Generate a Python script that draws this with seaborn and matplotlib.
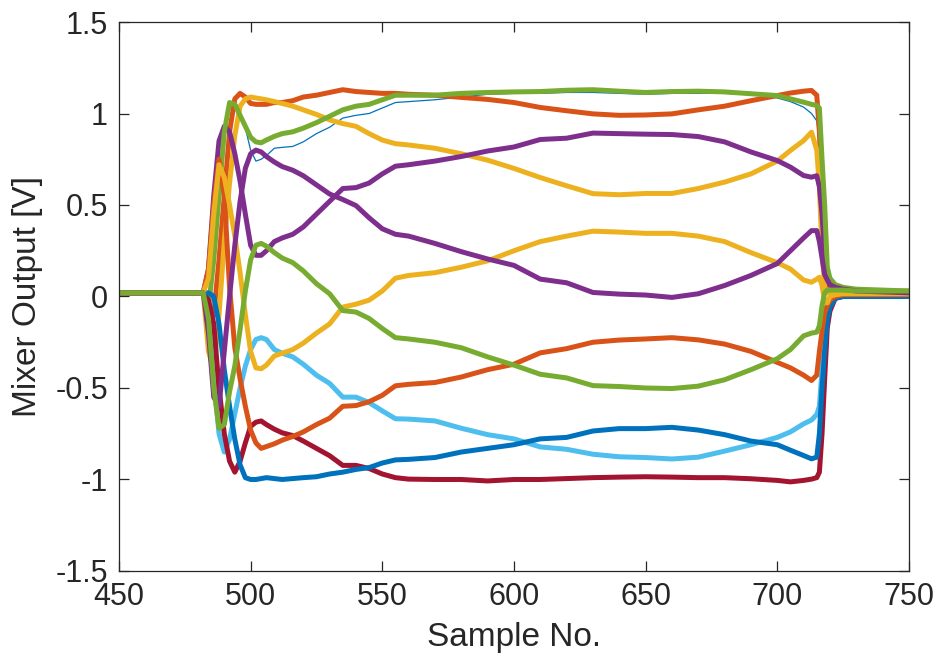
import numpy as np
import pandas as pd
import seaborn as sns
import matplotlib.pyplot as plt
from matplotlib.ticker import FuncFormatter

sample_no = [450, 482, 484, 486, 488, 490, 492, 494, 496, 498,
             500, 502, 504, 506, 509, 512, 516, 520, 525, 530,
             535, 540, 545, 550, 555, 560, 570, 580, 590, 600,
             610, 620, 630, 640, 650, 660, 670, 680, 690, 700,
             705, 710, 713, 715, 716, 717, 718, 719, 720, 722,
             725, 730, 750]

# mixer outputs [V], one list per channel
blue_thin = [0.02, 0.02, -0.04, 0.2, 0.55, 0.88, 1.04, 1.07, 1.01, 0.92,
             0.80, 0.74, 0.75, 0.77, 0.81, 0.815, 0.82, 0.845, 0.89, 0.925,
             0.975, 0.99, 1.0, 1.03, 1.06, 1.065, 1.075, 1.09, 1.105, 1.11,
             1.11, 1.115, 1.115, 1.11, 1.105, 1.11, 1.11, 1.11, 1.105, 1.085,
             1.065, 1.035, 1.0, 0.96, 0.85, 0.6, 0.3, 0.12, 0.05, 0.02,
             0.01, 0.0, 0.0]
orange_top = [0.02, 0.02, -0.05, -0.1, 0.2, 0.55, 0.9, 1.08, 1.11, 1.09,
              1.055, 1.05, 1.05, 1.05, 1.06, 1.06, 1.07, 1.09, 1.1, 1.115,
              1.13, 1.12, 1.115, 1.11, 1.11, 1.105, 1.1, 1.088, 1.077, 1.06,
              1.033, 1.015, 0.998, 0.99, 0.992, 0.998, 1.02, 1.04, 1.07, 1.098,
              1.112, 1.122, 1.126, 1.1, 0.9, 0.5, 0.2, 0.07, 0.035, 0.02,
              0.02, 0.02, 0.015]
yellow_top = [0.02, 0.02, -0.3, -0.4, -0.1, 0.3, 0.62, 0.88, 1.04, 1.08,
              1.09, 1.085, 1.08, 1.075, 1.065, 1.055, 1.04, 1.02, 0.995, 0.965,
              0.945, 0.93, 0.89, 0.855, 0.835, 0.828, 0.81, 0.78, 0.745, 0.7,
              0.65, 0.605, 0.562, 0.556, 0.563, 0.563, 0.59, 0.625, 0.67, 0.74,
              0.798, 0.852, 0.898, 0.8, 0.6, 0.25, 0.05, 0.02, 0.02, 0.02,
              0.02, 0.02, 0.015]
purple_a = [0.02, 0.02, 0.15, 0.55, 0.85, 0.93, 0.9, 0.78, 0.63, 0.45,
            0.28, 0.225, 0.225, 0.25, 0.3, 0.32, 0.34, 0.38, 0.45, 0.52,
            0.59, 0.595, 0.62, 0.67, 0.712, 0.72, 0.74, 0.765, 0.795, 0.817,
            0.858, 0.865, 0.893, 0.89, 0.887, 0.885, 0.874, 0.845, 0.79, 0.743,
            0.707, 0.661, 0.652, 0.66, 0.6, 0.45, 0.22, 0.124, 0.09, 0.055,
            0.04, 0.03, 0.02]
green_top = [0.02, 0.02, -0.06, 0.2, 0.55, 0.9, 1.06, 1.05, 0.99, 0.93,
             0.87, 0.845, 0.84, 0.855, 0.875, 0.89, 0.9, 0.92, 0.95, 0.985,
             1.02, 1.04, 1.05, 1.075, 1.10, 1.1, 1.10, 1.11, 1.115, 1.118,
             1.12, 1.127, 1.13, 1.122, 1.115, 1.12, 1.122, 1.118, 1.108, 1.098,
             1.08, 1.062, 1.05, 1.044, 1.03, 0.75, 0.5, 0.16, 0.1, 0.065,
             0.05, 0.04, 0.03]
light_blue = [0.02, 0.02, -0.1, -0.45, -0.75, -0.85, -0.78, -0.64, -0.5, -0.38,
              -0.29, -0.235, -0.225, -0.235, -0.29, -0.31, -0.33, -0.37, -0.43, -0.475,
              -0.55, -0.55, -0.58, -0.625, -0.668, -0.67, -0.68, -0.72, -0.755, -0.778,
              -0.822, -0.835, -0.862, -0.876, -0.88, -0.888, -0.878, -0.845, -0.81, -0.77,
              -0.74, -0.696, -0.675, -0.645, -0.6, -0.4, -0.1, -0.05, -0.02, 0.0,
              0.01, 0.01, 0.01]
dark_red = [0.02, 0.02, -0.02, -0.15, -0.5, -0.75, -0.9, -0.96, -0.9, -0.8,
            -0.71, -0.687, -0.68, -0.7, -0.725, -0.745, -0.76, -0.79, -0.83, -0.87,
            -0.923, -0.923, -0.94, -0.97, -0.99, -0.998, -1.0, -1.0, -1.008, -1.0,
            -1.0, -0.995, -0.99, -0.987, -0.985, -0.987, -0.99, -0.99, -0.996, -1.005,
            -1.013, -1.005, -0.998, -0.99, -0.96, -0.75, -0.45, -0.17, -0.08, -0.01,
            0.0, 0.01, 0.01]
blue_thick = [0.02, 0.02, 0.02, 0.0, -0.15, -0.4, -0.6, -0.78, -0.92, -0.99,
              -1.0, -1.0, -0.995, -0.99, -0.995, -1.0, -0.995, -0.99, -0.985, -0.97,
              -0.96, -0.945, -0.935, -0.91, -0.893, -0.89, -0.88, -0.85, -0.83, -0.81,
              -0.778, -0.77, -0.735, -0.722, -0.722, -0.715, -0.73, -0.755, -0.79, -0.81,
              -0.84, -0.869, -0.887, -0.878, -0.75, -0.5, -0.3, -0.13, -0.06, -0.01,
              0.0, 0.0, 0.0]
orange_low = [0.02, 0.02, 0.15, 0.5, 0.75, 0.55, 0.05, -0.28, -0.45, -0.6,
              -0.73, -0.8, -0.83, -0.82, -0.805, -0.785, -0.765, -0.74, -0.7, -0.665,
              -0.6, -0.596, -0.575, -0.54, -0.488, -0.48, -0.47, -0.44, -0.4, -0.37,
              -0.308, -0.285, -0.25, -0.238, -0.232, -0.225, -0.237, -0.26, -0.3, -0.36,
              -0.39, -0.43, -0.459, -0.43, -0.3, -0.19, -0.09, -0.05, -0.02, 0.0,
              0.01, 0.01, 0.01]
yellow_mid = [0.02, 0.02, 0.1, 0.45, 0.72, 0.65, 0.5, 0.33, 0.13, -0.1,
              -0.3, -0.39, -0.395, -0.375, -0.325, -0.31, -0.29, -0.255, -0.2, -0.15,
              -0.058, -0.042, -0.02, 0.03, 0.1, 0.115, 0.13, 0.16, 0.195, 0.25,
              0.3, 0.33, 0.357, 0.352, 0.345, 0.345, 0.33, 0.3, 0.24, 0.185,
              0.15, 0.09, 0.078, 0.095, 0.105, 0.06, -0.03, -0.035, 0.0, 0.01,
              0.015, 0.015, 0.015]
purple_b = [0.02, 0.02, -0.2, -0.55, -0.6, -0.3, 0.0, 0.28, 0.52, 0.7,
            0.78, 0.8, 0.79, 0.765, 0.735, 0.71, 0.69, 0.66, 0.61, 0.56,
            0.53, 0.497, 0.43, 0.37, 0.34, 0.33, 0.29, 0.245, 0.205, 0.17,
            0.095, 0.075, 0.022, 0.013, 0.008, -0.005, 0.015, 0.06, 0.115, 0.18,
            0.25, 0.32, 0.36, 0.36, 0.3, 0.21, 0.12, 0.09, 0.065, 0.05,
            0.04, 0.03, 0.02]
green_mid = [0.02, 0.02, -0.12, -0.5, -0.72, -0.7, -0.52, -0.38, -0.18, 0.03,
             0.2, 0.28, 0.29, 0.275, 0.24, 0.21, 0.185, 0.14, 0.07, 0.015,
             -0.077, -0.085, -0.12, -0.175, -0.225, -0.232, -0.25, -0.28, -0.33, -0.375,
             -0.425, -0.445, -0.487, -0.492, -0.5, -0.503, -0.49, -0.455, -0.4, -0.34,
             -0.29, -0.215, -0.2, -0.195, -0.16, -0.05, 0.02, 0.035, 0.035, 0.035,
             0.035, 0.03, 0.03]

# MATLAB default colour order
mblue = "#0072BD"
morange = "#D95319"
myellow = "#EDB120"
mpurple = "#7E2F8E"
mgreen = "#77AC30"
mlightblue = "#4DBEEE"
mdarkred = "#A2142F"

# (values, colour, line width) in plotting order
channels = [
    (blue_thin, mblue, 0.9),
    (orange_top, morange, 3.6),
    (yellow_top, myellow, 3.6),
    (purple_a, mpurple, 3.6),
    (green_top, mgreen, 3.6),
    (light_blue, mlightblue, 3.6),
    (dark_red, mdarkred, 3.6),
    (blue_thick, mblue, 3.6),
    (orange_low, morange, 3.6),
    (yellow_mid, myellow, 3.6),
    (purple_b, mpurple, 3.6),
    (green_mid, mgreen, 3.6),
]

sns.set_style("ticks")
plt.rcParams['font.family'] = ['Liberation Sans', 'DejaVu Sans']

fig = plt.figure(figsize=(9.33, 6.53), dpi=100)
ax = fig.add_axes([0.1275, 0.1256, 0.8467, 0.8407])

for vals, col, lw in channels:
    sns.lineplot(x=sample_no, y=vals, color=col, linewidth=lw, ax=ax,
                 solid_joinstyle="round", solid_capstyle="round")

ax.set_xlim(450, 750)
ax.set_ylim(-1.5, 1.5)
ax.set_xticks(np.arange(450, 751, 50))
ax.set_yticks(np.arange(-1.5, 1.51, 0.5))
ax.yaxis.set_major_formatter(FuncFormatter(lambda v, p: "%g" % v))

# box with inward ticks, like MATLAB
for s in ax.spines.values():
    s.set_visible(True)
    s.set_color("#262626")
    s.set_linewidth(0.9)
ax.tick_params(direction="in", top=True, right=True, length=7, width=0.9,
               color="#262626", labelcolor="#262626", labelsize=22, pad=8)

ax.set_xlabel("Sample No.", fontsize=24, color="#262626", labelpad=7)
ax.set_ylabel("Mixer Output [V]", fontsize=24, color="#262626", labelpad=9)

plt.savefig("out.png", dpi=100)
